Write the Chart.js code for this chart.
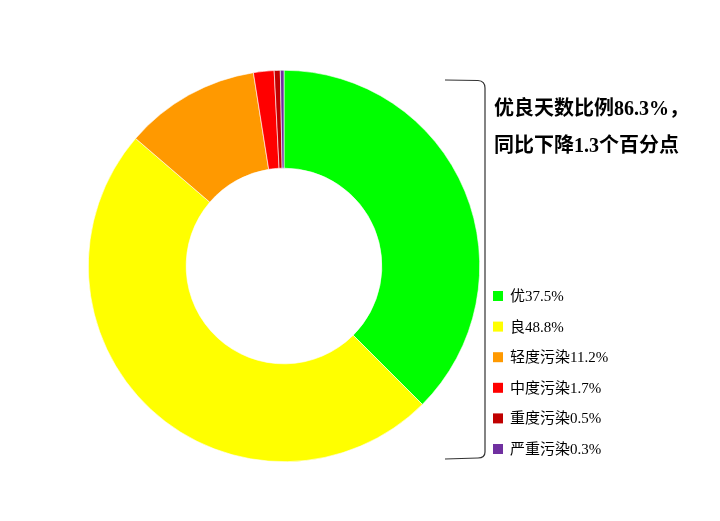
<!DOCTYPE html>
<html>
<head>
<meta charset="utf-8">
<script src="https://cdn.jsdelivr.net/npm/chart.js@4"></script>
<style>
    html, body { margin: 0; padding: 0; background: #fff; }
    #wrap { width: 720px; height: 521px; }
</style>
</head>
<body>
<div id="wrap"><canvas id="mainChart" width="720" height="521"></canvas></div>
<script>
// Data
const categories = ['优', '良', '轻度污染', '中度污染', '重度污染', '严重污染'];
const shares = [37.5, 48.8, 11.2, 1.7, 0.5, 0.3];
const sliceColors = ['#00FF00', '#FFFF00', '#FF9900', '#FF0000', '#C00000', '#7030A0'];
const noteLines = ['优良天数比例86.3%，', '同比下降1.3个百分点'];

const serif = '"Liberation Serif", "Noto Sans CJK SC", serif';

// Bracket, note and legend drawn on the canvas
const sidePanel = {
    id: 'sidePanel',
    afterDraw(chart) {
        const c = chart.ctx;
        c.save();

        // bracket
        c.strokeStyle = '#333';
        c.lineWidth = 1.2;
        c.beginPath();
        c.moveTo(445, 80);
        c.lineTo(478, 80.5);
        c.quadraticCurveTo(485, 81, 485, 88);
        c.lineTo(485, 452);
        c.quadraticCurveTo(485, 458, 478, 458);
        c.lineTo(445, 459);
        c.stroke();

        // note
        c.fillStyle = '#000';
        c.font = 'bold 20px ' + serif;
        c.textBaseline = 'middle';
        c.textAlign = 'left';
        c.fillText(noteLines[0], 494, 110);
        c.fillText(noteLines[1], 494, 147);

        // legend
        const labels = chart.data.labels;
        const data = chart.data.datasets[0].data;
        const colors = chart.data.datasets[0].backgroundColor;
        c.font = '15px ' + serif;
        labels.forEach((name, i) => {
            const y = 296 + i * 30.6;
            c.fillStyle = colors[i];
            c.fillRect(493, y - 5, 10, 10);
            c.fillStyle = '#000';
            c.fillText(name + data[i] + '%', 510, y + 1);
        });

        c.restore();
    }
};

const ctx = document.getElementById('mainChart');
new Chart(ctx, {
    type: 'doughnut',
    data: {
        labels: categories,
        datasets: [{
            data: shares,
            backgroundColor: sliceColors,
            borderColor: '#ffffff',
            borderWidth: 0.6
        }]
    },
    options: {
        responsive: false,
        animation: false,
        cutout: '50%',
        layout: {
            padding: { top: 70, bottom: 59, left: 88, right: 240 }
        },
        plugins: {
            legend: { display: false },
            tooltip: { enabled: false }
        }
    },
    plugins: [sidePanel]
});
</script>
</body>
</html>
